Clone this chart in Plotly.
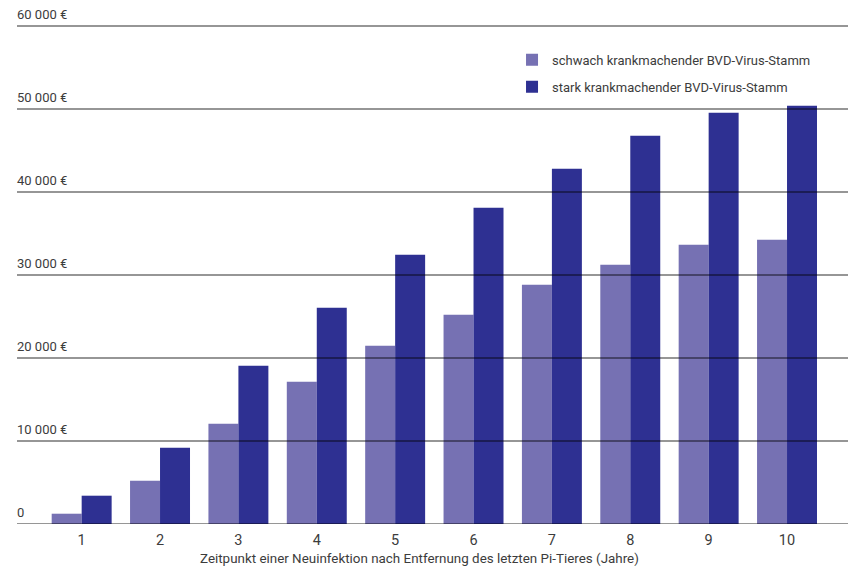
import plotly.graph_objects as go

years = [1, 2, 3, 4, 5, 6, 7, 8, 9, 10]
schwach = [1240, 5220, 12080, 17140, 21480, 25220, 28830, 31240, 33650, 34250]
stark = [3410, 9190, 19070, 26060, 32450, 38110, 42810, 46780, 49560, 50400]
y_ticks = [0, 10000, 20000, 30000, 40000, 50000, 60000]
y_labels = ["0", "10 000 €", "20 000 €", "30 000 €", "40 000 €", "50 000 €", "60 000 €"]
x_title = "Zeitpunkt einer Neuinfektion nach Entfernung des letzten Pi-Tieres (Jahre)"
names = ["schwach krankmachender BVD-Virus-Stamm", "stark krankmachender BVD-Virus-Stamm"]

FONT = "Roboto, DejaVu Sans Condensed, sans-serif"
TXT = "#3c3c3c"

fig = go.Figure()
fig.add_trace(go.Bar(x=years, y=schwach, name=names[0], marker_color="#7671B3",
                     marker_line_width=0, legendgroup="a"))
fig.add_trace(go.Bar(x=years, y=stark, name=names[1], marker_color="#2E3092",
                     marker_line_width=0, legendgroup="b"))

for v in y_ticks:
    fig.add_shape(type="line", xref="paper", x0=0, x1=1, yref="y", y0=v, y1=v,
                  line=dict(color="rgba(0,0,0,0.55)", width=1.6), layer="above")

fig.add_annotation(text=x_title, xref="paper", yref="paper", x=0.4838, y=0,
                   xanchor="center", yanchor="top", yshift=-25, showarrow=False,
                   font=dict(family=FONT, size=13.4, color=TXT))

fig.update_layout(
    width=850, height=568,
    margin=dict(l=17, r=2, t=6, b=44),
    paper_bgcolor="white", plot_bgcolor="white",
    barmode="group", bargap=0.235, bargroupgap=0,
    font=dict(family=FONT, color=TXT, size=13),
    showlegend=True,
    legend=dict(x=0.5957, y=0.925, xanchor="left", yanchor="top",
                font=dict(family=FONT, size=13, color=TXT),
                traceorder="grouped", tracegroupgap=7,
                bgcolor="rgba(0,0,0,0)", itemclick=False),
    xaxis=dict(range=[0.175, 10.778], tickmode="array", tickvals=years,
               ticktext=[str(y) for y in years], showgrid=False, zeroline=False,
               showline=False, ticks="", tickfont=dict(size=14.5, color=TXT),
               ticklabelstandoff=5, automargin=False),
    yaxis=dict(range=[0, 62410], tickmode="array", tickvals=y_ticks, ticktext=y_labels,
               showgrid=False, zeroline=False, showline=False, ticks="",
               ticklabelposition="inside top", ticklabelstandoff=-3, ticklabelshift=-2,
               automargin=False, tickfont=dict(size=13, color=TXT)),
)

fig.write_html("out.html")
